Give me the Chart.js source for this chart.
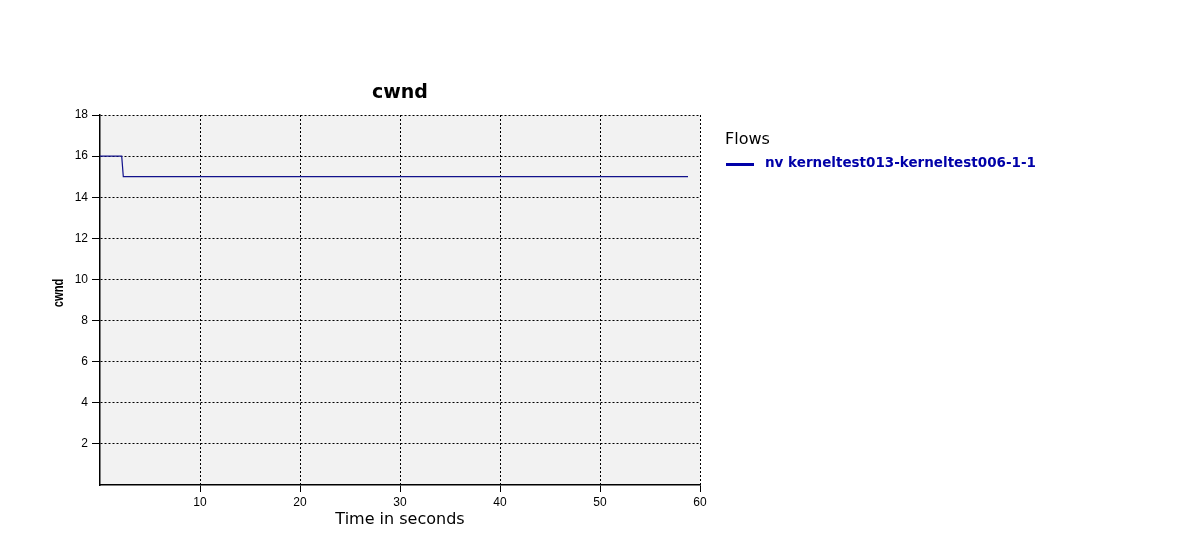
<!DOCTYPE html>
<html>
<head>
<meta charset="utf-8">
<script src="https://cdn.jsdelivr.net/npm/chart.js@4/dist/chart.umd.min.js"></script>
<style>
  html, body { margin: 0; padding: 0; background: #ffffff; }
  #wrap { width: 1200px; height: 550px; position: relative; }
</style>
</head>
<body>
<div id="wrap"><canvas id="c" width="1200" height="550"></canvas></div>
<script>
// ---- data ----
const chartTitle = "cwnd";
const xAxisTitle = "Time in seconds";
const yAxisTitle = "cwnd";
const legendTitle = "Flows";
const seriesLabel = "nv kerneltest013-kerneltest006-1-1";
const timeValues = [0, 2.17, 2.33, 58.8];
const cwndValues = [16, 16, 15, 15];
const xTicks = [10, 20, 30, 40, 50, 60];
const yTicks = [2, 4, 6, 8, 10, 12, 14, 16, 18];

const lineColor = "#12128c";
const legendColor = "#0000a8";
const dejavu = "'DejaVu Sans', sans-serif";
const liberation = "'Liberation Sans', Arial, sans-serif";

const points = timeValues.map((t, i) => ({ x: t, y: cwndValues[i] }));

const bgPlugin = {
  id: "plotBg",
  beforeDraw(chart) {
    const { ctx, chartArea: a } = chart;
    ctx.save();
    ctx.fillStyle = "#f2f2f2";
    ctx.fillRect(a.left, a.top, a.right - a.left, a.bottom - a.top);
    ctx.restore();
  }
};

const textPlugin = {
  id: "titleAndLegend",
  afterDraw(chart) {
    const { ctx, chartArea: a } = chart;
    const ds = chart.data.datasets[0];
    ctx.save();
    ctx.textBaseline = "middle";
    // chart title centred over the plot area
    ctx.textAlign = "center";
    ctx.fillStyle = "#000000";
    ctx.font = "bold 19px " + dejavu;
    ctx.fillText(chartTitle, (a.left + a.right) / 2, 93.5);
    // y axis title (rotated, slightly condensed)
    ctx.save();
    ctx.translate(59, 293);
    ctx.rotate(-Math.PI / 2);
    ctx.scale(0.8, 1);
    ctx.font = "bold 14px " + liberation;
    ctx.fillText(yAxisTitle, 0, 0);
    ctx.restore();
    // legend
    ctx.textAlign = "left";
    ctx.font = "16px " + dejavu;
    ctx.fillText(legendTitle, 725, 140);
    ctx.strokeStyle = legendColor;
    ctx.lineWidth = 3;
    ctx.beginPath();
    ctx.moveTo(726, 164.5);
    ctx.lineTo(754, 164.5);
    ctx.stroke();
    ctx.fillStyle = legendColor;
    ctx.font = "bold 13.5px " + dejavu;
    ctx.fillText(ds.label, 765, 163);
    ctx.restore();
  }
};

const gridBase = {
  color: "#000000",
  lineWidth: 1,
  drawTicks: true,
  tickBorderDash: [],
  tickColor: "#000000"
};

new Chart(document.getElementById("c"), {
  type: "line",
  data: {
    datasets: [{
      label: seriesLabel,
      data: points,
      borderColor: lineColor,
      borderWidth: 1.2,
      pointRadius: 0,
      fill: false,
      tension: 0
    }]
  },
  options: {
    responsive: false,
    animation: false,
    layout: { padding: { left: 53, right: 500, top: 115, bottom: 21 } },
    plugins: {
      legend: { display: false },
      tooltip: { enabled: false },
      title: { display: false }
    },
    scales: {
      x: {
        type: "linear",
        min: 0,
        max: 60,
        afterBuildTicks(scale) { scale.ticks = xTicks.map(v => ({ value: v })); },
        afterFit(scale) { scale.height = 44; },
        ticks: {
          color: "#000000",
          font: { family: liberation, size: 12 },
          padding: 3,
          maxRotation: 0,
          autoSkip: false
        },
        grid: Object.assign({}, gridBase, { tickLength: 7 }),
        border: { display: true, color: "#000000", width: 1.5, dash: [2, 2] },
        title: {
          display: true,
          text: xAxisTitle,
          color: "#000000",
          font: { family: dejavu, size: 16 },
          padding: { top: 0, bottom: 0 }
        }
      },
      y: {
        type: "linear",
        min: 0,
        max: 18,
        afterBuildTicks(scale) { scale.ticks = yTicks.map(v => ({ value: v })); },
        afterFit(scale) { scale.width = 47; },
        ticks: {
          color: "#000000",
          font: { family: liberation, size: 12 },
          padding: 4,
          autoSkip: false
        },
        grid: Object.assign({}, gridBase, { tickLength: 8 }),
        border: { display: true, color: "#000000", width: 1.5, dash: [2, 2] },
        title: { display: false }
      }
    }
  },
  plugins: [bgPlugin, textPlugin]
});
</script>
</body>
</html>
